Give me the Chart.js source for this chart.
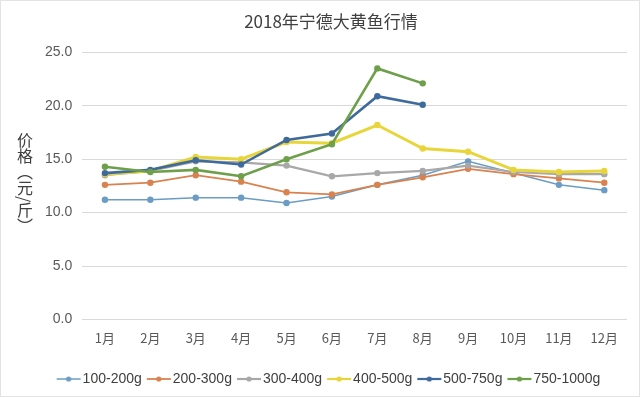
<!DOCTYPE html>
<html><head><meta charset="utf-8">
<script src="https://cdn.jsdelivr.net/npm/chart.js@4.4.1/dist/chart.umd.min.js"></script>
<style>
html,body{margin:0;padding:0;background:#fff;}
#wrap{position:relative;width:640px;height:397px;box-sizing:border-box;border:1px solid #e3e3e3;}
#ytitle{position:absolute;left:15px;top:131px;writing-mode:vertical-rl;font-family:"Noto Sans CJK SC";font-size:16px;color:#404040;line-height:18px;}
canvas{position:absolute;left:0;top:0;}
</style></head>
<body><div id="wrap"><canvas id="c" width="638" height="395"></canvas><div id="ytitle">价格（元/斤）</div></div>
<script>
const title = "2018年宁德大黄鱼行情";
const months = ["1月","2月","3月","4月","5月","6月","7月","8月","9月","10月","11月","12月"];
const seriesNames = ["100-200g","200-300g","300-400g","400-500g","500-750g","750-1000g"];
const s100_200 = [11.2,11.2,11.4,11.4,10.9,11.5,12.6,13.5,14.8,13.7,12.6,12.1];
const s200_300 = [12.6,12.8,13.5,12.9,11.9,11.7,12.6,13.3,14.1,13.6,13.2,12.8];
const s300_400 = [13.5,13.9,14.8,14.7,14.4,13.4,13.7,13.9,14.4,13.8,13.6,13.6];
const s400_500 = [13.6,13.9,15.2,15.0,16.6,16.5,18.2,16.0,15.7,14.0,13.8,13.9];
const s500_750 = [13.7,14.0,14.9,14.5,16.8,17.4,20.9,20.1,null,null,null,null];
const s750_1000 = [14.3,13.8,14.0,13.4,15.0,16.4,23.5,22.1,null,null,null,null];
const yTicks = [0,5,10,15,20,25];

const colors = ["#6b9cc3","#d9824f","#a8a8a8","#e8d53a","#3f6a9c","#6e9f4a"];
const widths = [1.5,1.8,2.2,3,2.6,2.6];
const data = [s100_200,s200_300,s300_400,s400_500,s500_750,s750_1000];

function legendIcon(color,w){
  const c=document.createElement('canvas');c.width=26;c.height=10;
  const x=c.getContext('2d');
  x.strokeStyle=color;x.lineWidth=Math.min(w,2.2);x.beginPath();x.moveTo(1,5);x.lineTo(25,5);x.stroke();
  x.fillStyle=color;x.beginPath();x.arc(13,5,2.6,0,Math.PI*2);x.fill();
  return c;
}

new Chart(document.getElementById('c'),{
  type:'line',
  data:{labels:months,datasets:data.map((d,i)=>({
    label:seriesNames[i],data:d,borderColor:colors[i],backgroundColor:colors[i],
    borderWidth:widths[i],pointRadius:3.2,pointBorderWidth:0,pointBackgroundColor:colors[i],
    tension:0,spanGaps:false,order:6-i
  }))},
  options:{
    responsive:false,animation:false,
    layout:{padding:{left:34,right:12,top:8,bottom:0}},
    plugins:{
      title:{display:true,text:title,color:'#404040',font:{family:'Noto Sans CJK SC',size:17,weight:'normal'},padding:{top:2,bottom:21}},
      legend:{position:'bottom',labels:{
        color:'#404040',font:{family:'Liberation Sans',size:14},usePointStyle:true,padding:10,boxWidth:26,
        sort:(a,b)=>a.datasetIndex-b.datasetIndex,
        generateLabels:(chart)=>{
          const items=Chart.defaults.plugins.legend.labels.generateLabels(chart);
          items.forEach((it)=>{it.pointStyle=legendIcon(colors[it.datasetIndex],widths[it.datasetIndex]);});
          return items;
        }
      }},
      tooltip:{enabled:false}
    },
    scales:{
      x:{offset:true,grid:{display:false,drawTicks:false},border:{display:false},
        afterFit:(s)=>{s.height+=5;},
        ticks:{color:'#595959',font:{family:'Noto Sans CJK SC',size:13},padding:11}},
      y:{min:0,max:25,afterBuildTicks:(s)=>{s.ticks=yTicks.map(v=>({value:v}));},
        grid:{color:'#d9d9d9',lineWidth:1,drawTicks:false},border:{display:false},
        ticks:{color:'#595959',font:{family:'Liberation Sans',size:14},padding:10,callback:(v)=>Number(v).toFixed(1)}}
    }
  }
});
</script></body></html>
